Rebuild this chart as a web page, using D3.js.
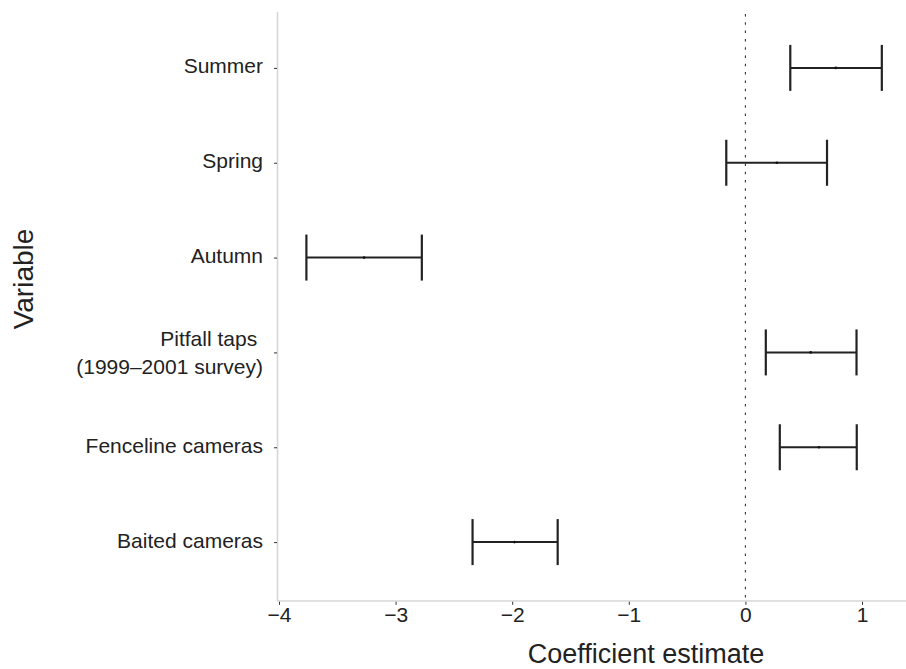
<!DOCTYPE html>
<html>
<head>
<meta charset="utf-8">
<script src="https://cdn.jsdelivr.net/npm/d3@7"></script>
<style>
  html, body { margin: 0; padding: 0; background: #fff; }
  svg { display: block; font-family: "Liberation Sans", Arial, Helvetica, sans-serif; }
</style>
</head>
<body>
<svg id="chart" width="906" height="669"></svg>
<script>
// ---- Data ----
const categories = ["Summer", "Spring", "Autumn", "Pitfall taps |(1999\u20132001 survey)", "Fenceline cameras", "Baited cameras"];
const estimates = [0.775, 0.27, -3.27, 0.56, 0.63, -1.98];
const lowerCI   = [0.385, -0.164, -3.765, 0.175, 0.295, -2.34];
const upperCI   = [1.17, 0.70, -2.775, 0.953, 0.955, -1.61];
const xTicks = [-4, -3, -2, -1, 0, 1];
const xTitle = "Coefficient estimate";
const yTitle = "Variable";

const data = categories.map((c, i) => ({ cat: c, est: estimates[i], lo: lowerCI[i], hi: upperCI[i] }));

// ---- Layout ----
const svg = d3.select("#chart");
const panel = { left: 277.5, right: 906, top: 12, bottom: 601 };
const x = d3.scaleLinear().domain([-4, 1]).range([279, 862]);
const y = d3.scalePoint().domain(categories).range([11, 599]).padding(0.6);
const ink = "#222";
const tickFont = 21;

// axis lines (light grey)
svg.append("line").attr("x1", panel.left).attr("x2", panel.left)
  .attr("y1", panel.top).attr("y2", panel.bottom + 0.5)
  .attr("stroke", "#d6d6d6").attr("stroke-width", 1.6);
svg.append("line").attr("x1", panel.left).attr("x2", panel.right)
  .attr("y1", panel.bottom).attr("y2", panel.bottom)
  .attr("stroke", "#d6d6d6").attr("stroke-width", 1.6);

// zero reference line
svg.append("line").attr("x1", x(0)).attr("x2", x(0))
  .attr("y1", 14).attr("y2", panel.bottom)
  .attr("stroke", "#333").attr("stroke-width", 1.1)
  .attr("stroke-dasharray", "2.5,5.8");

// x axis
const xAxis = svg.append("g").attr("transform", `translate(0,${panel.bottom + 0.8})`)
  .call(d3.axisBottom(x).tickValues(xTicks).tickFormat(d3.format("d"))
    .tickSize(3).tickSizeOuter(0).tickPadding(2.5));
xAxis.select(".domain").remove();
xAxis.selectAll(".tick line").attr("stroke", "#333").attr("stroke-width", 1);
xAxis.selectAll(".tick text").attr("fill", ink).attr("font-size", tickFont)
  .attr("font-family", "Liberation Sans, Arial, sans-serif");

// y axis
const yAxis = svg.append("g").attr("transform", `translate(${panel.left - 0.5},0)`)
  .call(d3.axisLeft(y).tickSize(3).tickSizeOuter(0).tickPadding(11));
yAxis.select(".domain").remove();
yAxis.selectAll(".tick line").attr("stroke", "#333").attr("stroke-width", 1);
yAxis.selectAll(".tick text").attr("fill", ink).attr("font-size", tickFont)
  .attr("font-family", "Liberation Sans, Arial, sans-serif")
  .attr("dy", "0.24em")
  .each(function(d) {
    const parts = d.split("|");
    if (parts.length > 1) {
      const t = d3.select(this).text(null).attr("dy", null);
      const xx = t.attr("x");
      t.append("tspan").attr("x", xx).attr("dy", "-0.31em").style("white-space", "pre").text(parts[0]);
      t.append("tspan").attr("x", xx).attr("dy", "1.32em").text(parts[1]);
    }
  });

// error bars
const capH = 23;
const g = svg.append("g");
g.selectAll("line.bar").data(data).join("line").attr("class", "bar")
  .attr("x1", d => x(d.lo)).attr("x2", d => x(d.hi))
  .attr("y1", d => y(d.cat)).attr("y2", d => y(d.cat))
  .attr("stroke", ink).attr("stroke-width", 2);
g.selectAll("line.capl").data(data).join("line").attr("class", "capl")
  .attr("x1", d => x(d.lo)).attr("x2", d => x(d.lo))
  .attr("y1", d => y(d.cat) - capH).attr("y2", d => y(d.cat) + capH)
  .attr("stroke", ink).attr("stroke-width", 2.2);
g.selectAll("line.caph").data(data).join("line").attr("class", "caph")
  .attr("x1", d => x(d.hi)).attr("x2", d => x(d.hi))
  .attr("y1", d => y(d.cat) - capH).attr("y2", d => y(d.cat) + capH)
  .attr("stroke", ink).attr("stroke-width", 2.2);
g.selectAll("circle.est").data(data).join("circle").attr("class", "est")
  .attr("cx", d => x(d.est)).attr("cy", d => y(d.cat)).attr("r", 1.3)
  .attr("fill", "#111");

// titles
svg.append("text").attr("x", 646).attr("y", 663)
  .attr("text-anchor", "middle").attr("font-size", 27).attr("fill", ink)
  .text(xTitle);
svg.append("text").attr("transform", "translate(33,279) rotate(-90)")
  .attr("text-anchor", "middle").attr("font-size", 28).attr("fill", ink)
  .text(yTitle);
</script>
</body>
</html>
